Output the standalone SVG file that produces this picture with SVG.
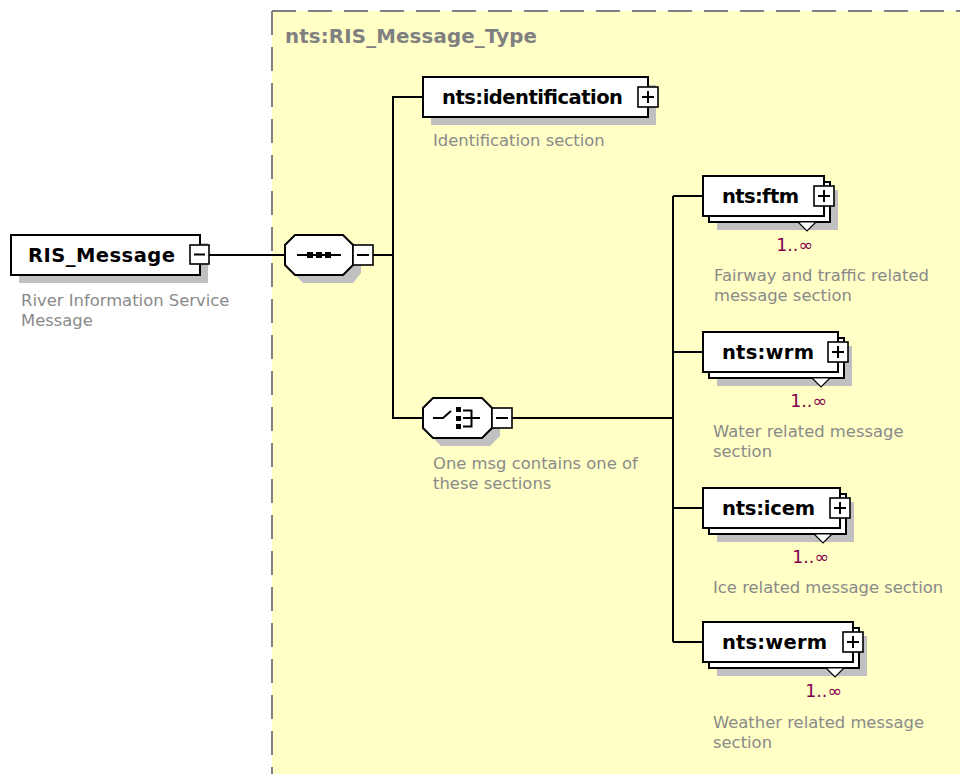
<svg xmlns="http://www.w3.org/2000/svg" width="960" height="774" viewBox="0 0 960 774">
<defs>
<style>
.name{font-family:"DejaVu Sans","Liberation Sans",sans-serif;font-weight:bold;font-size:19.5px;fill:#000}
.type{font-family:"DejaVu Sans","Liberation Sans",sans-serif;font-weight:bold;font-size:19.8px;fill:#808080}
.desc{font-family:"DejaVu Sans","Liberation Sans",sans-serif;font-size:16.4px;fill:#8a8a8a}
.mult{font-family:"DejaVu Sans","Liberation Sans",sans-serif;font-size:17.5px;fill:#800050}
.box{fill:#fff;stroke:#000;stroke-width:2}
.shadow{fill:#c0c0c0}
.btn{fill:#fff;stroke:#000;stroke-width:1.6}
.sign{stroke:#000;stroke-width:2;fill:none}
.conn{stroke:#000;stroke-width:2;fill:none}
.tab{fill:#fff;stroke:#000;stroke-width:1.2}
.border{stroke:#808080;stroke-width:2;stroke-dasharray:24 12;fill:none}
</style>
</defs>
<rect x="0" y="0" width="960" height="774" fill="#fff"/>
<g id="type-area">
<rect x="272" y="11" width="688" height="763" fill="#ffffc6"/>
<line class="border" x1="272" y1="11" x2="960" y2="11"/>
<line class="border" x1="272" y1="11" x2="272" y2="774"/>
<text class="type" x="285" y="43" textLength="252">nts:RIS_Message_Type</text>
</g>
<g id="connectors">
<line class="conn" x1="208" y1="255" x2="285" y2="255"/>
<line class="conn" x1="373" y1="255" x2="393" y2="255"/>
<polyline class="conn" points="423,97 393,97 393,418 423,418"/>
<line class="conn" x1="512" y1="418" x2="673" y2="418"/>
<line class="conn" x1="673" y1="196" x2="673" y2="642"/>
<line class="conn" x1="673" y1="196" x2="703" y2="196"/>
<line class="conn" x1="673" y1="352" x2="703" y2="352"/>
<line class="conn" x1="673" y1="508" x2="703" y2="508"/>
<line class="conn" x1="673" y1="642" x2="703" y2="642"/>
</g>
<g id="RIS_Message">
<rect class="shadow" x="19" y="243" width="189" height="40"/>
<rect class="box" x="11" y="235" width="189" height="40"/>
<text class="name" x="28" y="262" textLength="147">RIS_Message</text>
<rect class="btn" x="190" y="245" width="19" height="19"/>
<line class="sign" x1="194" y1="254.5" x2="205" y2="254.5"/>
<text class="desc" x="21" y="306">River Information Service</text>
<text class="desc" x="21" y="326">Message</text>
</g>
<g id="sequence">
<polygon class="shadow" points="303,243 353,243 361,253 361,273 353,283 303,283 293,273 293,253"/>
<polygon class="box" points="295,235 343,235 353,245 353,265 343,275 295,275 285,265 285,245"/>
<line class="sign" x1="297" y1="255" x2="341" y2="255"/>
<rect x="307" y="252" width="6" height="6" fill="#000"/>
<rect x="316" y="252" width="6" height="6" fill="#000"/>
<rect x="325" y="252" width="6" height="6" fill="#000"/>
<rect class="btn" x="353" y="245" width="20" height="20"/>
<line class="sign" x1="357" y1="255" x2="369" y2="255"/>
</g>
<g id="identification">
<rect class="shadow" x="431" y="85" width="225" height="40"/>
<rect class="box" x="423" y="77" width="225" height="40"/>
<text class="name" x="442" y="104" textLength="181">nts:identification</text>
<rect class="btn" x="638" y="87" width="20" height="20"/>
<line class="sign" x1="642" y1="97" x2="654" y2="97"/>
<line class="sign" x1="648" y1="91" x2="648" y2="103"/>
<text class="desc" x="433" y="146">Identification section</text>
</g>
<g id="choice">
<polygon class="shadow" points="441,406 490,406 500,416 500,436 490,446 441,446 431,436 431,416"/>
<polygon class="box" points="433,398 482,398 492,408 492,428 482,438 433,438 423,428 423,408"/>
<polyline class="sign" points="433,418 443,418 451,411"/>
<rect x="456" y="407" width="5" height="5" fill="#000"/>
<rect x="456" y="416" width="5" height="5" fill="#000"/>
<rect x="456" y="424" width="5" height="5" fill="#000"/>
<polyline class="sign" points="463,410.5 471.5,410.5 471.5,426.5 463,426.5"/>
<line class="sign" x1="463" y1="418" x2="480" y2="418"/>
<rect class="btn" x="492" y="408" width="20" height="20"/>
<line class="sign" x1="496" y1="418" x2="508" y2="418"/>
<text class="desc" x="433" y="469">One msg contains one of</text>
<text class="desc" x="433" y="489">these sections</text>
</g>
<g id="ftm">
<rect class="shadow" x="717" y="190" width="121" height="40"/>
<rect class="box" x="709" y="182" width="121" height="40"/>
<rect class="box" x="703" y="176" width="121" height="40"/>
<polygon class="tab" points="798,222 807,231 816,222"/>
<text class="name" x="722" y="203" textLength="77">nts:ftm</text>
<rect class="btn" x="814" y="186" width="20" height="20"/>
<line class="sign" x1="818" y1="196" x2="830" y2="196"/>
<line class="sign" x1="824" y1="190" x2="824" y2="202"/>
<text class="mult" x="813" y="251" text-anchor="end">1..∞</text>
<text class="desc" x="714" y="281">Fairway and traffic related</text>
<text class="desc" x="714" y="301">message section</text>
</g>
<g id="wrm">
<rect class="shadow" x="717" y="346" width="135" height="40"/>
<rect class="box" x="709" y="338" width="135" height="40"/>
<rect class="box" x="703" y="332" width="135" height="40"/>
<polygon class="tab" points="812,378 821,387 830,378"/>
<text class="name" x="722" y="359" textLength="92">nts:wrm</text>
<rect class="btn" x="828" y="342" width="20" height="20"/>
<line class="sign" x1="832" y1="352" x2="844" y2="352"/>
<line class="sign" x1="838" y1="346" x2="838" y2="358"/>
<text class="mult" x="827" y="407" text-anchor="end">1..∞</text>
<text class="desc" x="713" y="437">Water related message</text>
<text class="desc" x="713" y="457">section</text>
</g>
<g id="icem">
<rect class="shadow" x="717" y="502" width="137" height="40"/>
<rect class="box" x="709" y="494" width="137" height="40"/>
<rect class="box" x="703" y="488" width="137" height="40"/>
<polygon class="tab" points="814,534 823,543 832,534"/>
<text class="name" x="722" y="515" textLength="93">nts:icem</text>
<rect class="btn" x="830" y="498" width="20" height="20"/>
<line class="sign" x1="834" y1="508" x2="846" y2="508"/>
<line class="sign" x1="840" y1="502" x2="840" y2="514"/>
<text class="mult" x="829" y="563" text-anchor="end">1..∞</text>
<text class="desc" x="713" y="593">Ice related message section</text>
</g>
<g id="werm">
<rect class="shadow" x="717" y="636" width="150" height="40"/>
<rect class="box" x="709" y="628" width="150" height="40"/>
<rect class="box" x="703" y="622" width="150" height="40"/>
<polygon class="tab" points="826,668 835,677 844,668"/>
<text class="name" x="722" y="649" textLength="105">nts:werm</text>
<rect class="btn" x="843" y="632" width="20" height="20"/>
<line class="sign" x1="847" y1="642" x2="859" y2="642"/>
<line class="sign" x1="853" y1="636" x2="853" y2="648"/>
<text class="mult" x="842" y="697" text-anchor="end">1..∞</text>
<text class="desc" x="713" y="728">Weather related message</text>
<text class="desc" x="713" y="748">section</text>
</g>
</svg>
